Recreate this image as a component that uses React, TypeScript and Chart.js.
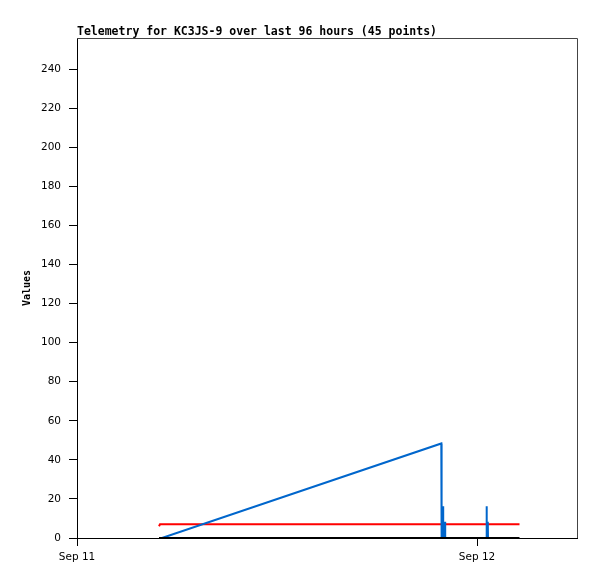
import React, { useEffect, useRef } from "react";
import { Chart, registerables } from "chart.js";

Chart.register(...registerables);

const titleText = "Telemetry for KC3JS-9 over last 96 hours (45 points)";
const yAxisTitle = "Values";
const xTickHours = [0, 24];
const xTickLabels = ["Sep 11", "Sep 12"];
const yMax = 256;
const xMax = 30;

const blackHours = [4.92, 26.55];
const blackValues = [0, 0];

const blueHours = [5.1, 21.858, 21.87, 21.882, 21.96, 21.972, 22.08, 22.092, 24.564, 24.576, 24.588, 24.648, 24.66];
const blueValues = [0, 48.4, 24.5, 0, 16.3, 0, 8.3, 0, 0, 16.3, 0, 8.3, 0];

const redHours = [4.92, 4.98, 26.55];
const redValues = [6, 7, 7];

const toPoints = (xs: number[], ys: number[]) => xs.map((x, i) => ({ x, y: ys[i] }));

const framePlugin = {
  id: "frameAndTitles",
  afterDraw(chart: any) {
    const { ctx, chartArea } = chart;
    ctx.save();
    ctx.strokeStyle = "#444";
    ctx.lineWidth = 1;
    ctx.beginPath();
    ctx.moveTo(chartArea.left, chartArea.top + 0.5);
    ctx.lineTo(chartArea.right + 0.5, chartArea.top + 0.5);
    ctx.lineTo(chartArea.right + 0.5, chartArea.bottom);
    ctx.stroke();

    ctx.fillStyle = "#000";
    ctx.font = "bold 11.5px 'DejaVu Sans Mono'";
    ctx.textAlign = "left";
    ctx.textBaseline = "alphabetic";
    ctx.fillText(titleText, chartArea.left, 35);

    ctx.translate(27, 288);
    ctx.rotate(-Math.PI / 2);
    ctx.font = "bold 10px 'DejaVu Sans Mono'";
    ctx.textAlign = "center";
    ctx.textBaseline = "middle";
    ctx.fillText(yAxisTitle, 0, 0);
    ctx.restore();
  },
};

export default function App() {
  const ref = useRef<HTMLCanvasElement | null>(null);
  useEffect(() => {
    if (!ref.current) return;
    const chart = new Chart(ref.current, {
      type: "line",
      data: {
        datasets: [
          {
            data: toPoints(blackHours, blackValues),
            borderColor: "#000000",
            borderWidth: 2,
            pointRadius: 0,
            tension: 0,
          },
          {
            data: toPoints(blueHours, blueValues),
            borderColor: "#0066cc",
            borderWidth: 2,
            pointRadius: 0,
            tension: 0,
          },
          {
            data: toPoints(redHours, redValues),
            borderColor: "#ff0000",
            borderWidth: 2,
            pointRadius: 0,
            tension: 0,
          },
        ],
      },
      options: {
        responsive: false,
        animation: false,
        devicePixelRatio: 1,
        layout: { padding: { top: 38, right: 20, bottom: 0, left: 0 } },
        plugins: { legend: { display: false }, tooltip: { enabled: false }, title: { display: false } },
        scales: {
          x: {
            type: "linear",
            min: 0,
            max: xMax,
            afterFit: (s: any) => {
              s.height = 41;
            },
            afterBuildTicks: (s: any) => {
              s.ticks = xTickHours.map((v) => ({ value: v }));
            },
            grid: { drawOnChartArea: false, drawTicks: true, tickLength: 8, color: "#000" },
            border: { color: "#000", width: 1 },
            ticks: {
              padding: 5,
              color: "#000",
              font: { family: "'DejaVu Sans'", size: 10.5 },
              maxRotation: 0,
              autoSkip: false,
              callback: (v: any) => {
                const i = xTickHours.indexOf(Number(v));
                return i >= 0 ? xTickLabels[i] : "";
              },
            },
          },
          y: {
            type: "linear",
            min: 0,
            max: yMax,
            afterFit: (s: any) => {
              s.width = 77;
            },
            afterBuildTicks: (s: any) => {
              s.ticks = s.ticks.filter((t: any) => t.value % 20 === 0);
            },
            grid: { drawOnChartArea: false, drawTicks: true, tickLength: 8, color: "#000" },
            border: { color: "#000", width: 1 },
            ticks: {
              stepSize: 20,
              padding: 8,
              color: "#000",
              font: { family: "'DejaVu Sans'", size: 10.5 },
            },
          },
        },
      },
      plugins: [framePlugin],
    });
    return () => chart.destroy();
  }, []);
  return (
    <div style={{ position: "absolute", left: 0, top: 0, width: 597, height: 579, background: "#fff" }}>
      <canvas ref={ref} width={597} height={579} style={{ display: "block" }} />
    </div>
  );
}
